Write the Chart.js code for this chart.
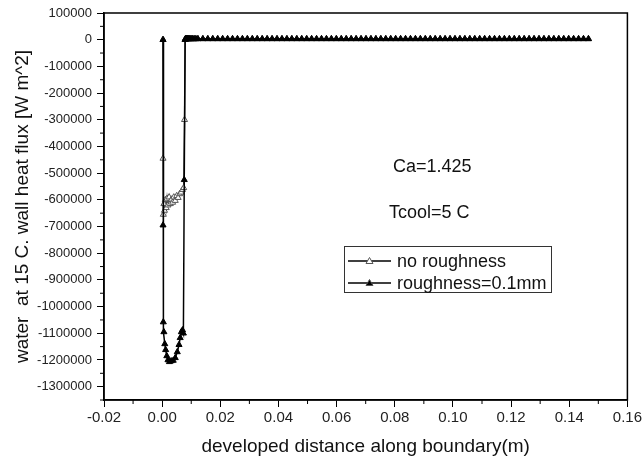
<!DOCTYPE html>
<html>
<head>
<meta charset="utf-8">
<script src="https://cdn.jsdelivr.net/npm/chart.js@4.4.0/dist/chart.umd.min.js"></script>
<style>
  html, body { margin: 0; padding: 0; background: #fff; }
  #wrap { width: 644px; height: 461px; }
</style>
</head>
<body>
<div id="wrap"><canvas id="flux"></canvas></div>
<script>
// tick labels
const xTicks = [-0.02, 0, 0.02, 0.04, 0.06, 0.08, 0.10, 0.12, 0.14, 0.16];
const yTicks = [100000, 0, -100000, -200000, -300000, -400000, -500000, -600000, -700000,
  -800000, -900000, -1000000, -1100000, -1200000, -1300000];

// entrance region, no roughness (open triangles)
const smoothX = [0.0003, 0.0003, 0.0004, 0.0006, 0.0008, 0.0011, 0.0014, 0.0017, 0.0020, 0.0024,
  0.0028, 0.0032, 0.0036, 0.0040, 0.0045, 0.0050, 0.0055, 0.0060, 0.0065, 0.0070, 0.0074, 0.0077, 0.0079];
const smoothFlux = [0, -445000, -655000, -615000, -640000, -600000, -630000, -595000, -620000, -590000,
  -615000, -598000, -610000, -590000, -603000, -585000, -592000, -578000, -572000, -562000, -555000, -300000, 0];

// entrance region, roughness=0.1mm (filled triangles)
const roughX = [0.0003, 0.0003, 0.0004, 0.0006, 0.0009, 0.0012, 0.0016, 0.0020, 0.0025, 0.0031,
  0.0038, 0.0045, 0.0052, 0.0058, 0.0062, 0.0066, 0.0070, 0.0073, 0.0076, 0.0079];
const roughFlux = [0, -695000, -1058000, -1095000, -1140000, -1162000, -1185000, -1200000, -1207000, -1204000,
  -1202000, -1192000, -1170000, -1143000, -1117000, -1095000, -1088000, -1100000, -525000, 0];

// downstream wall, both cases lie on top of each other
const tailX = [0.0080, 0.0082, 0.0084, 0.0086, 0.0088, 0.0090, 0.0093, 0.0096, 0.0100, 0.0105, 0.0110, 0.0116, 0.0123,
  0.0140, 0.0157, 0.0174, 0.0191, 0.0208, 0.0225, 0.0242, 0.0259, 0.0276, 0.0293, 0.0310, 0.0327, 0.0344, 0.0361,
  0.0378, 0.0395, 0.0412, 0.0429, 0.0446, 0.0463, 0.0480, 0.0497, 0.0514, 0.0531, 0.0548, 0.0565, 0.0582, 0.0599,
  0.0616, 0.0633, 0.0650, 0.0667, 0.0684, 0.0701, 0.0718, 0.0735, 0.0752, 0.0769, 0.0786, 0.0803, 0.0820, 0.0837,
  0.0854, 0.0871, 0.0888, 0.0905, 0.0922, 0.0939, 0.0956, 0.0973, 0.0990, 0.1007, 0.1024, 0.1041, 0.1058, 0.1075,
  0.1092, 0.1109, 0.1126, 0.1143, 0.1160, 0.1177, 0.1194, 0.1211, 0.1228, 0.1245, 0.1262, 0.1279, 0.1296, 0.1313,
  0.1330, 0.1347, 0.1364, 0.1381, 0.1398, 0.1415, 0.1432, 0.1449, 0.1466];
const tailFlux = [3000, 3000, 3000, 3000, 3000, 3000, 3000, 3000, 3000, 3000, 3000, 3000, 3000,
  3000, 3000, 3000, 3000, 3000, 3000, 3000, 3000, 3000, 3000, 3000, 3000, 3000, 3000,
  3000, 3000, 3000, 3000, 3000, 3000, 3000, 3000, 3000, 3000, 3000, 3000, 3000, 3000,
  3000, 3000, 3000, 3000, 3000, 3000, 3000, 3000, 3000, 3000, 3000, 3000, 3000, 3000,
  3000, 3000, 3000, 3000, 3000, 3000, 3000, 3000, 3000, 3000, 3000, 3000, 3000, 3000,
  3000, 3000, 3000, 3000, 3000, 3000, 3000, 3000, 3000, 3000, 3000, 3000, 3000, 3000,
  3000, 3000, 3000, 3000, 3000, 3000, 3000, 3000, 3000];

const legendLabels = ['no roughness', 'roughness=0.1mm'];
const notes = ['Ca=1.425', 'Tcool=5 C'];

const FONT = '"Liberation Sans", Arial, sans-serif';

function toPoints(xs, ys) {
  return xs.map((x, i) => ({ x: x, y: ys[i] }));
}

// frame, minor ticks, notes and legend box
const decor = {
  id: 'decor',
  afterDraw(chart) {
    const ctx = chart.ctx;
    const a = chart.chartArea;
    const xs = chart.scales.x, ys = chart.scales.y;
    ctx.save();
    ctx.strokeStyle = '#000';
    ctx.lineWidth = 1.5;
    ctx.strokeRect(a.left, a.top, a.right - a.left, a.bottom - a.top);

    ctx.lineWidth = 1;
    ctx.beginPath();
    for (let i = 0; i < xTicks.length - 1; i++) {
      const px = xs.getPixelForValue((xTicks[i] + xTicks[i + 1]) / 2);
      ctx.moveTo(px, a.bottom);
      ctx.lineTo(px, a.bottom + 4);
    }
    const yMid = [...yTicks, -1400000];
    for (let i = 0; i < yMid.length - 1; i++) {
      const py = ys.getPixelForValue((yMid[i] + yMid[i + 1]) / 2);
      ctx.moveTo(a.left, py);
      ctx.lineTo(a.left - 4, py);
    }
    ctx.stroke();

    ctx.fillStyle = '#111';
    ctx.font = '18px ' + FONT;
    ctx.textBaseline = 'middle';
    ctx.fillText(notes[0], 393, 167);
    ctx.fillText(notes[1], 389, 213);

    // legend
    ctx.lineWidth = 1;
    ctx.strokeStyle = '#333';
    ctx.strokeRect(344.5, 246.5, 207, 46);
    const rows = [261, 283];
    const fills = ['#fff', '#000'];
    ctx.font = '18px ' + FONT;
    rows.forEach((ry, i) => {
      ctx.strokeStyle = '#000';
      ctx.lineWidth = 1.5;
      ctx.beginPath();
      ctx.moveTo(348, ry);
      ctx.lineTo(391, ry);
      ctx.stroke();
      ctx.beginPath();
      ctx.moveTo(369.5, ry - 3.5);
      ctx.lineTo(373, ry + 2.5);
      ctx.lineTo(366, ry + 2.5);
      ctx.closePath();
      ctx.fillStyle = fills[i];
      ctx.fill();
      ctx.lineWidth = 1;
      ctx.strokeStyle = '#555';
      ctx.stroke();
      ctx.fillStyle = '#111';
      ctx.fillText(legendLabels[i], 397, ry + 1);
    });
    ctx.restore();
  }
};

const ct = document.getElementById('flux');
new Chart(ct, {
  type: 'scatter',
  data: {
    datasets: [
      {
        label: legendLabels[0],
        data: toPoints(smoothX.concat(tailX), smoothFlux.concat(tailFlux)),
        showLine: true,
        order: 1,
        borderColor: '#444',
        borderWidth: 1.5,
        pointStyle: 'triangle',
        pointRadius: 3.5,
        pointBackgroundColor: '#fff',
        pointBorderColor: '#555',
        pointBorderWidth: 1
      },
      {
        label: legendLabels[1],
        data: toPoints(roughX.concat(tailX), roughFlux.concat(tailFlux)),
        showLine: true,
        order: 0,
        borderColor: '#000',
        borderWidth: 1.5,
        pointStyle: 'triangle',
        pointRadius: 3.5,
        pointBackgroundColor: '#000',
        pointBorderColor: '#000',
        pointBorderWidth: 1
      }
    ]
  },
  options: {
    responsive: true,
    maintainAspectRatio: false,
    animation: false,
    layout: { padding: { top: 13, right: 16, left: 0, bottom: 0 } },
    plugins: {
      legend: { display: false },
      tooltip: { enabled: false }
    },
    scales: {
      x: {
        type: 'linear',
        min: -0.02,
        max: 0.16,
        afterBuildTicks: s => { s.ticks = xTicks.map(v => ({ value: v })); },
        afterFit: s => { s.height = 61; },
        ticks: {
          callback: v => v.toFixed(2),
          font: { family: FONT, size: 15 },
          color: '#222',
          padding: 2,
          maxRotation: 0
        },
        grid: { drawOnChartArea: false, drawTicks: true, tickLength: 7, color: '#000', tickWidth: 1 },
        border: { display: true, color: '#000', width: 1.5 },
        title: {
          display: true,
          text: 'developed distance along boundary(m)',
          font: { family: FONT, size: 19 },
          color: '#111',
          padding: { top: 0, bottom: 3 }
        }
      },
      y: {
        min: -1350000,
        max: 100000,
        afterBuildTicks: s => { s.ticks = yTicks.map(v => ({ value: v })); },
        afterFit: s => { s.width = 104; },
        ticks: {
          callback: v => String(v),
          font: { family: FONT, size: 13 },
          color: '#222',
          padding: 5
        },
        grid: { drawOnChartArea: false, drawTicks: true, tickLength: 7, color: '#000', tickWidth: 1 },
        border: { display: true, color: '#000', width: 1.5 },
        title: {
          display: true,
          text: 'water  at 15 C. wall heat flux [W m^2]',
          font: { family: FONT, size: 19 },
          color: '#111',
          padding: { top: 11, bottom: 0 }
        }
      }
    }
  },
  plugins: [decor]
});
</script>
</body>
</html>
